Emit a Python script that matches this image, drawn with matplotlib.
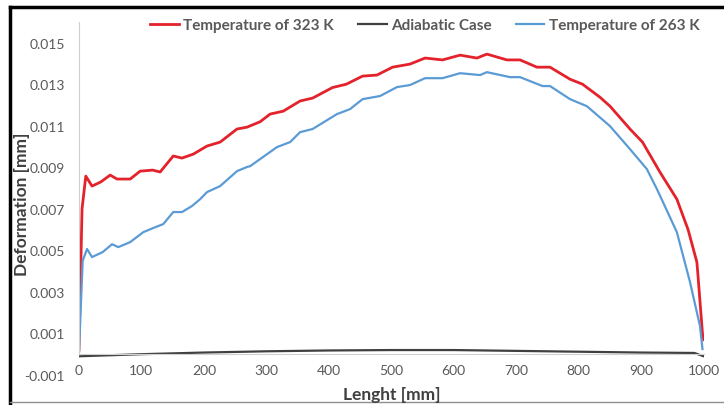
import matplotlib

matplotlib.use("Agg")
import matplotlib.pyplot as plt  # noqa: E402
from matplotlib.lines import Line2D  # noqa: E402

# values
x_hot = [0, 5, 11, 21, 35, 50, 61, 82, 98, 118, 130, 151, 165, 183, 205, 226, 253, 269,
         290, 306, 327, 354, 374, 406, 428, 454, 477, 502, 530, 554, 582, 610, 637, 653,
         685, 706, 733, 754, 786, 806, 834, 850, 882, 902, 930, 957, 975, 989, 990, 998, 1000]
y_hot = [0.0002, 0.0070, 0.00858, 0.0081, 0.0083, 0.00863, 0.00844, 0.00844, 0.00882,
         0.00887, 0.00878, 0.00955, 0.00945, 0.00964, 0.01003, 0.01022, 0.01085, 0.01094,
         0.0112, 0.01157, 0.01171, 0.0122, 0.01234, 0.01285, 0.01301, 0.0134, 0.01345,
         0.01383, 0.01398, 0.01427, 0.01418, 0.01441, 0.01427, 0.01446, 0.01418, 0.01418,
         0.01383, 0.01383, 0.01325, 0.01301, 0.01238, 0.01195, 0.01085, 0.01022, 0.00877,
         0.00747, 0.0060, 0.00444, 0.0041, 0.0010, 0.0007]

x_adiabatic = [0, 100, 200, 300, 400, 500, 600, 700, 800, 900, 985, 1000]
y_adiabatic = [-0.0001, 0.0, 0.00008, 0.00014, 0.00018, 0.0002, 0.0002, 0.00016,
               0.00012, 0.00008, 0.00006, -0.0001]

x_cold = [0, 6, 13, 21, 38, 53, 63, 82, 103, 119, 135, 151, 165, 181, 194, 205, 226, 253,
          269, 274, 317, 338, 354, 374, 413, 434, 454, 482, 509, 530, 554, 582, 610, 642,
          653, 690, 706, 742, 754, 786, 813, 850, 882, 909, 926, 957, 978, 994, 998]
y_cold = [0.0, 0.0045, 0.00507, 0.00468, 0.00492, 0.0053, 0.00516, 0.0054, 0.00588,
          0.00608, 0.00627, 0.00685, 0.00685, 0.00714, 0.00747, 0.00781, 0.0081, 0.00882,
          0.00902, 0.00906, 0.00998, 0.01022, 0.0107, 0.01085, 0.01157, 0.01181, 0.01229,
          0.01244, 0.01287, 0.01297, 0.0133, 0.0133, 0.01354, 0.01345, 0.01359, 0.01335,
          0.01335, 0.01292, 0.01292, 0.01229, 0.01195, 0.01099, 0.00988, 0.00892, 0.0079,
          0.00588, 0.00348, 0.00136, 0.00025]

x_ticks = [0, 100, 200, 300, 400, 500, 600, 700, 800, 900, 1000]
y_ticks = [-0.001, 0.001, 0.003, 0.005, 0.007, 0.009, 0.011, 0.013, 0.015]
y_tick_labels = ["-0.001", "0.001", "0.003", "0.005", "0.007", "0.009", "0.011", "0.013", "0.015"]

plt.rcParams["font.family"] = ["Lato", "DejaVu Sans"]
text_grey = "#595959"

fig = plt.figure(figsize=(7.24, 4.06), dpi=100)
ax = fig.add_axes([0.109, 0.074, 0.863, 0.869])

ax.plot(x_hot, y_hot, color="#e3222b", lw=2.0, label="Temperature of 323 K")
ax.plot(x_adiabatic, y_adiabatic, color="#404040", lw=1.6, label="Adiabatic Case")
ax.plot(x_cold, y_cold, color="#5b9bd5", lw=1.6, label="Temperature of 263 K")

ax.set_xlim(0, 1000)
ax.set_ylim(-0.001, 0.016)
ax.set_xticks(x_ticks)
ax.set_yticks(y_ticks)
ax.set_yticklabels(y_tick_labels)

for side in ("top", "right"):
    ax.spines[side].set_visible(False)
ax.spines["left"].set_color("#d0d0d0")
ax.spines["left"].set_bounds(0, 0.016)
ax.spines["bottom"].set_position(("data", 0))
ax.spines["bottom"].set_color("#d0d0d0")
ax.tick_params(axis="both", length=0, labelsize=10, labelcolor=text_grey)
ax.tick_params(axis="x", pad=7)
ax.tick_params(axis="y", pad=10)

fig.text(0.031, 0.497, "Deformation [mm]", rotation=90, ha="center", va="center",
         fontsize=12.5, fontweight="bold", color="#404040")
fig.text(0.541, 0.027, "Lenght [mm]", ha="center", va="center",
         fontsize=12.5, fontweight="bold", color="#404040")

leg = fig.legend(loc="center", bbox_to_anchor=(0.587, 0.936), ncol=3, frameon=False,
                 fontsize=11, handlelength=1.85, handletextpad=0.3, columnspacing=1.6)
for t in leg.get_texts():
    t.set_color(text_grey)
    t.set_fontweight("bold")

# picture frame
fig.add_artist(Line2D([0.0138, 1.0], [0.980, 0.980], color="black", lw=2.5,
                      transform=fig.transFigure))
fig.add_artist(Line2D([0.0138, 0.0138], [0.005, 0.980], color="black", lw=2.5,
                      transform=fig.transFigure))
fig.add_artist(Line2D([0.0138, 1.0], [0.007, 0.007], color="#909090", lw=1.0,
                      transform=fig.transFigure))

fig.savefig("out.png", dpi=100)
plt.close(fig)
